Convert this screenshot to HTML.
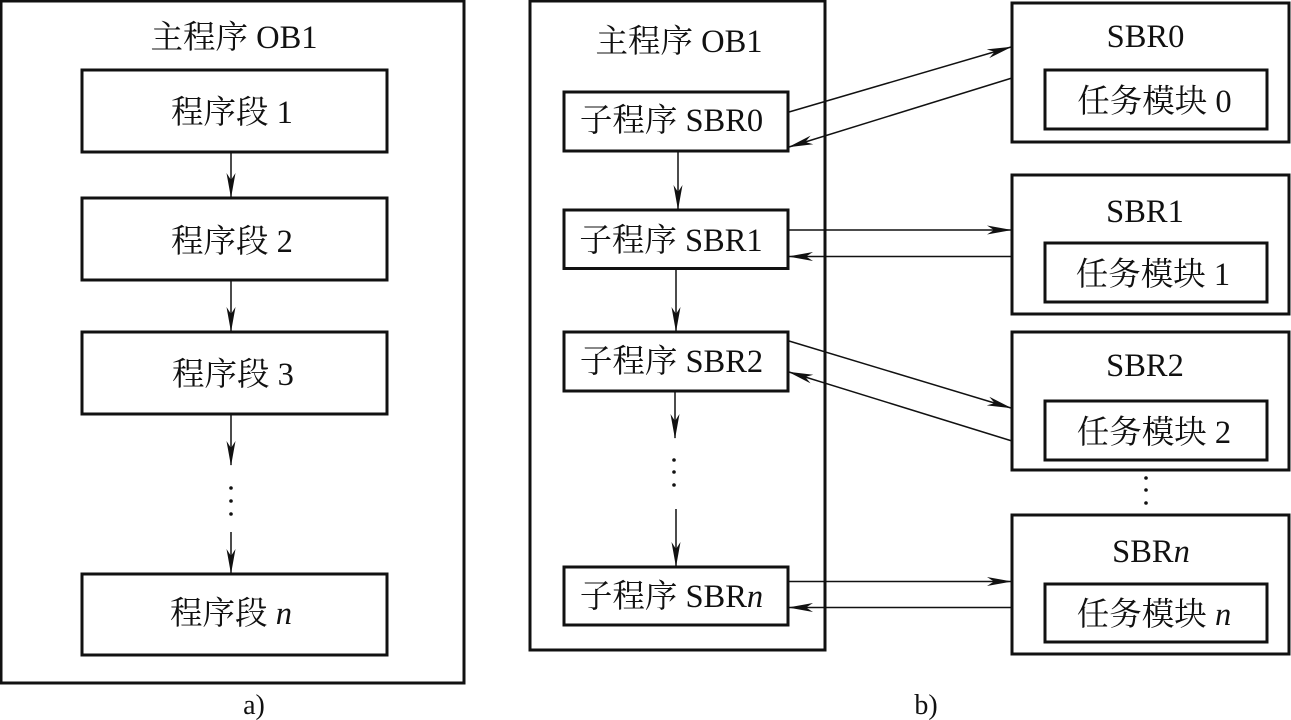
<!DOCTYPE html>
<html><head><meta charset="utf-8"><style>
html,body{margin:0;padding:0;background:#fff;width:1291px;height:720px;overflow:hidden}
svg{display:block}
text{font-family:"Liberation Serif","Noto Serif CJK SC",serif;font-size:32.5px;fill:#111;text-anchor:middle}
.b{fill:none;stroke:#111;stroke-width:3}
.h{fill:#111;stroke:none}
.d{fill:#111}
</style></head><body>
<svg width="1291" height="720" viewBox="0 0 1291 720" xmlns="http://www.w3.org/2000/svg">
<defs><marker id="a" viewBox="0 0 25 10" refX="24" refY="5" markerWidth="25" markerHeight="10" markerUnits="userSpaceOnUse" orient="auto"><path class="h" d="M0 0.5 L25 5 L0 9.5 L7 5 Z"/></marker></defs>

<!-- a -->
<rect class="b" x="1" y="1" width="463" height="682"/>
<text x="234" y="48">主程序 OB1</text>
<rect class="b" x="82" y="70" width="305" height="82"/>
<text x="232" y="123">程序段 1</text>
<rect class="b" x="82" y="198" width="305" height="82"/>
<text x="232" y="252">程序段 2</text>
<rect class="b" x="82" y="332" width="305" height="82"/>
<text x="233" y="385">程序段 3</text>
<rect class="b" x="82" y="574" width="305" height="81"/>
<text x="231" y="624">程序段 <tspan font-style="italic">n</tspan></text>
<g style="fill:none;stroke:#111;stroke-width:1.5">
<line x1="231" y1="153" x2="231" y2="197" marker-end="url(#a)"/>
<line x1="231" y1="281" x2="231" y2="331" marker-end="url(#a)"/>
<line x1="231" y1="415" x2="231" y2="465" marker-end="url(#a)"/>
<line x1="231" y1="532" x2="231" y2="573" marker-end="url(#a)"/>
</g>
<circle class="d" cx="231" cy="488" r="1.8"/><circle class="d" cx="231" cy="501" r="1.8"/><circle class="d" cx="231" cy="514" r="1.8"/>
<text x="254" y="714" style="font-size:28px">a)</text>

<!-- b left -->
<rect class="b" x="530" y="1" width="295" height="649"/>
<text x="679" y="52">主程序 OB1</text>
<rect class="b" x="564" y="92" width="224" height="59"/>
<text x="671.5" y="131">子程序 SBR0</text>
<rect class="b" x="564" y="210" width="224" height="58.5"/>
<text x="671" y="251">子程序 SBR1</text>
<rect class="b" x="564" y="332" width="224" height="59"/>
<text x="671.5" y="372">子程序 SBR2</text>
<rect class="b" x="564" y="567" width="224" height="58"/>
<text x="671.5" y="607">子程序 SBR<tspan font-style="italic">n</tspan></text>

<g style="fill:none;stroke:#111;stroke-width:1.5">
<line x1="678" y1="152" x2="678" y2="209" marker-end="url(#a)"/>
<line x1="676" y1="269" x2="676" y2="331" marker-end="url(#a)"/>
<line x1="675" y1="392" x2="675" y2="438" marker-end="url(#a)"/>
<line x1="676" y1="509" x2="676" y2="566" marker-end="url(#a)"/>
<line x1="789" y1="112" x2="1011" y2="47" marker-end="url(#a)"/>
<line x1="1012" y1="78" x2="789" y2="147" marker-end="url(#a)"/>
<line x1="789" y1="230" x2="1011" y2="230" marker-end="url(#a)"/>
<line x1="1012" y1="256.5" x2="789" y2="256.5" marker-end="url(#a)"/>
<line x1="789" y1="341" x2="1011" y2="408" marker-end="url(#a)"/>
<line x1="1012" y1="441" x2="789" y2="372" marker-end="url(#a)"/>
<line x1="789" y1="581.5" x2="1011" y2="581.5" marker-end="url(#a)"/>
<line x1="1012" y1="607.5" x2="789" y2="607.5" marker-end="url(#a)"/>
</g>
<circle class="d" cx="674" cy="460" r="1.8"/><circle class="d" cx="674" cy="472" r="1.8"/><circle class="d" cx="674" cy="485" r="1.8"/>
<circle class="d" cx="1146" cy="478" r="1.8"/><circle class="d" cx="1146" cy="490" r="1.8"/><circle class="d" cx="1146" cy="503" r="1.8"/>
<text x="926" y="714" style="font-size:28px">b)</text>

<!-- b right -->
<rect class="b" x="1012" y="3" width="277" height="139"/>
<text x="1145.5" y="47">SBR0</text>
<rect class="b" x="1045" y="70" width="222" height="59"/>
<text x="1154.5" y="112">任务模块 0</text>
<rect class="b" x="1012" y="175" width="277" height="139"/>
<text x="1145" y="222">SBR1</text>
<rect class="b" x="1045" y="243" width="222" height="59"/>
<text x="1153" y="285">任务模块 1</text>
<rect class="b" x="1012" y="332" width="277" height="138"/>
<text x="1145" y="376">SBR2</text>
<rect class="b" x="1045" y="401" width="222" height="59"/>
<text x="1154" y="443">任务模块 2</text>
<rect class="b" x="1012" y="515" width="277" height="139"/>
<text x="1151" y="562">SBR<tspan font-style="italic">n</tspan></text>
<rect class="b" x="1045" y="584" width="222" height="58"/>
<text x="1154" y="625">任务模块 <tspan font-style="italic">n</tspan></text>
</svg>
</body></html>
